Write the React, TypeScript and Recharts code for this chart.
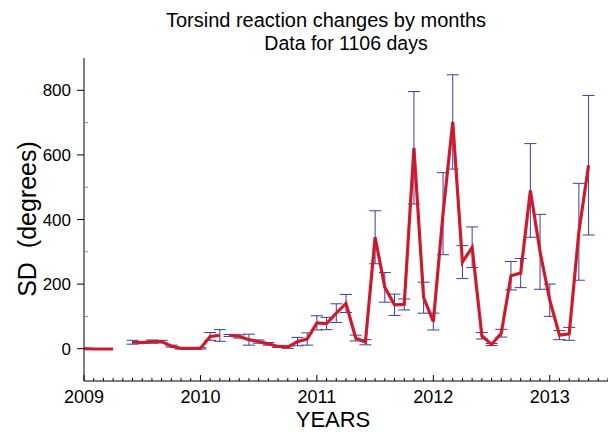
import { LineChart, Line, XAxis, YAxis, ErrorBar } from 'recharts';

// month index counted from Jan 2009; null rows are gaps in the record
const monthIdx = [0, 1, 2, 3, 4, 5, 6, 7, 8, 9, 10, 11, 12, 13, 14, 14.5, 15, 16, 17, 18, 19, 20, 21, 22, 23, 24, 25, 26, 27, 28, 29, 30, 31, 32, 33, 34, 35, 36, 37, 38, 39, 40, 41, 42, 43, 44, 45, 46, 47, 48, 49, 50, 51, 52];
const sdValues = [0, -1, -1, -1, null, 20, 19, 22, 22, 8, 1, 1, 1, 38, 41, null, 41, 38, 28, 22, 15, 7, 5, 22, 30, 80, 78, 110, 140, 33, 20, 345, 190, 136, 137, 622, 158, 84, 418, 702, 268, 314, 40, 13, 48, 226, 234, 490, 300, 150, 42, 46, 362, 568];
const sdErrors = [0, 0, 0, 0, null, 6, 3, 5, 4, 3, 2, 2, 2, 12, 18, null, 3, 5, 17, 5, 4, 3, 4, 13, 19, 22, 19, 29, 28, 9, 8, 82, 46, 33, 17, 174, 48, 26, 127, 146, 51, 63, 10, 3, 12, 44, 45, 145, 116, 50, 14, 20, 150, 216];

const yearLabels = [2009, 2010, 2011, 2012, 2013];
const yTickValues = [0, 100, 200, 300, 400, 500, 600, 700, 800];
const yLabelled = [0, 200, 400, 600, 800];

const data = monthIdx.map((m, i) => ({
  t: 2009 + m / 12,
  sd: sdValues[i],
  err: sdErrors[i],
}));

const monthTicks = Array.from({ length: 55 }, (_, i) => 2009 + i / 12);

const FONT = '"Liberation Sans", Arial, sans-serif';

function XTick(props: any) {
  const { x, y, payload } = props;
  const v = payload.value;
  const year = yearLabels.find((yr) => Math.abs(yr - v) < 0.001);
  return (
    <g>
      <line x1={x} y1={y} x2={x} y2={y - (year ? 6 : 3)} stroke="#000" strokeWidth={1} />
      {year && (
        <text x={x} y={y + 22} textAnchor="middle" fontSize={18} fontFamily={FONT} fill="#000">
          {year}
        </text>
      )}
    </g>
  );
}

function YTick(props: any) {
  const { x, y, payload } = props;
  const major = yLabelled.includes(payload.value);
  return (
    <g>
      {major ? (
        <line x1={x} y1={y} x2={x - 7} y2={y} stroke="#000" strokeWidth={1} />
      ) : (
        <line x1={x} y1={y} x2={x + 4} y2={y} stroke="#888" strokeWidth={1} />
      )}
      {major && (
        <text x={x - 13} y={y + 6} textAnchor="end" fontSize={17} fontFamily={FONT} fill="#000">
          {payload.value}
        </text>
      )}
    </g>
  );
}

export default function App() {
  return (
    <div style={{ position: 'fixed', left: 0, top: 0, width: 608, height: 432, background: '#fff', fontFamily: FONT }}>
      <div style={{ position: 'absolute', left: 326, top: 10, transform: 'translateX(-50%)', fontSize: 20, lineHeight: 1, whiteSpace: 'nowrap' }}>
        Torsind reaction changes by months
      </div>
      <div style={{ position: 'absolute', left: 346, top: 34, transform: 'translateX(-50%)', fontSize: 19.5, lineHeight: 1, whiteSpace: 'nowrap' }}>
        Data for 1106 days
      </div>
      <div style={{ position: 'absolute', left: 27, top: 219, transform: 'translate(-50%, -50%) rotate(-90deg)', fontSize: 25, lineHeight: 1, whiteSpace: 'pre' }}>
        SD  (degrees)
      </div>
      <div style={{ position: 'absolute', left: 333, top: 409, transform: 'translateX(-50%)', fontSize: 22, lineHeight: 1 }}>
        YEARS
      </div>
      <div style={{ position: 'absolute', left: 0, top: 0 }}>
        <LineChart width={608} height={432} data={data} margin={{ top: 58, right: 0, bottom: 0, left: 0 }}>
          <XAxis
            dataKey="t"
            type="number"
            domain={[2009, 2013.5]}
            ticks={monthTicks}
            interval={0}
            height={51}
            tickSize={0}
            tickMargin={0}
            tickLine={false}
            axisLine={{ stroke: '#000' }}
            tick={<XTick />}
          />
          <YAxis
            type="number"
            domain={[-100, 900]}
            ticks={yTickValues}
            interval={0}
            width={84}
            tickSize={0}
            tickMargin={0}
            tickLine={false}
            axisLine={{ stroke: '#000' }}
            tick={<YTick />}
          />
          <Line
            dataKey="sd"
            type="linear"
            stroke="#e31b1f"
            strokeWidth={3.2}
            dot={false}
            connectNulls={false}
            isAnimationActive={false}
          >
            <ErrorBar dataKey="err" direction="y" width={6} stroke="#3d3d9c" strokeWidth={1} />
          </Line>
          <Line
            dataKey="sd"
            type="linear"
            stroke="#2a2a9a"
            strokeOpacity={0.35}
            strokeWidth={1}
            dot={false}
            connectNulls={false}
            isAnimationActive={false}
          />
        </LineChart>
      </div>
    </div>
  );
}
